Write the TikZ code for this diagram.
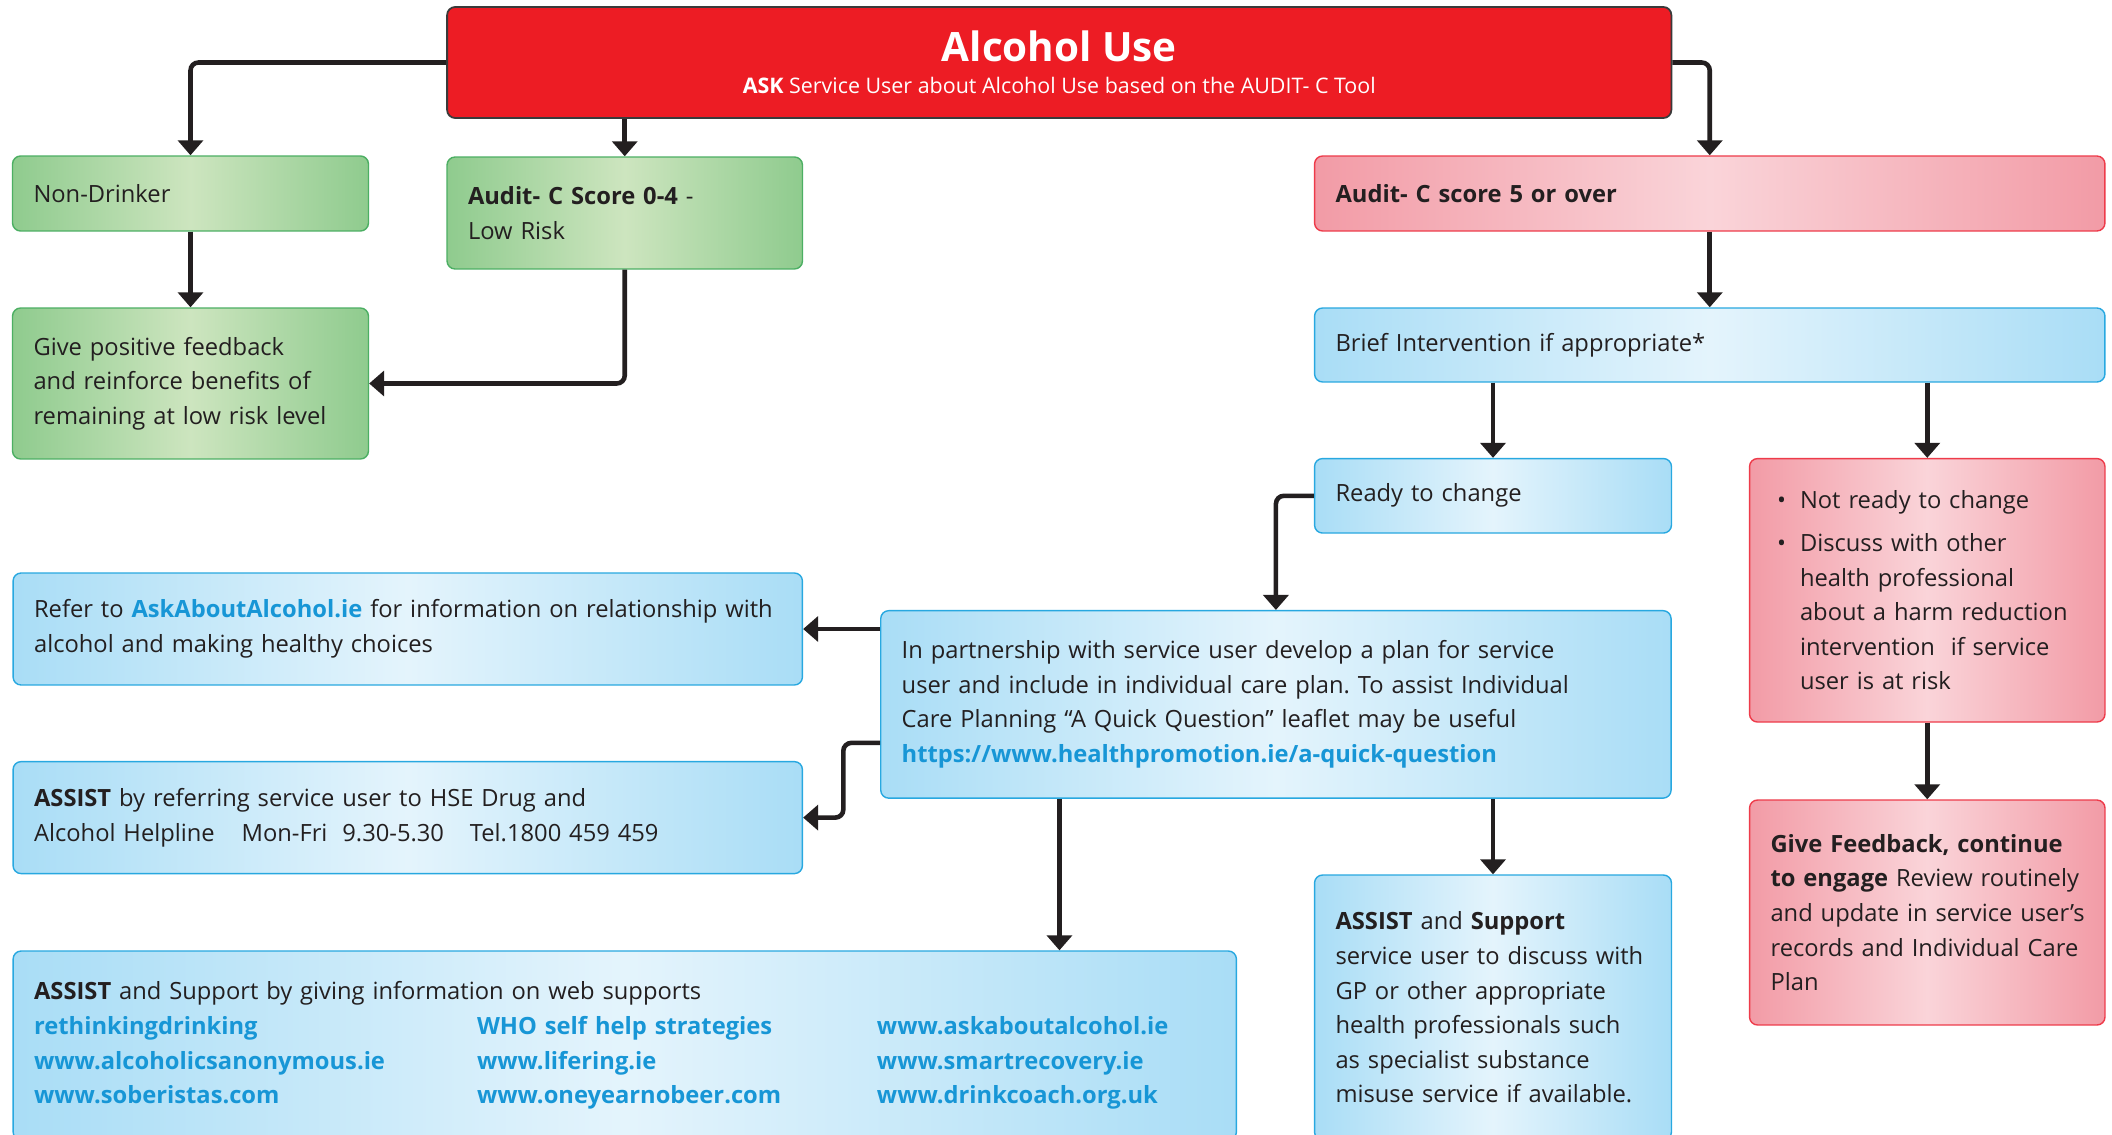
\documentclass[tikz,border=0pt]{standalone}
\usepackage{fontspec}
\setmainfont{Open Sans}
\usepackage{tikz}
\usetikzlibrary{arrows.meta}
\frenchspacing
\definecolor{alcred}{HTML}{ED1C24}
\definecolor{titleline}{HTML}{3A3A3A}
\definecolor{arrowblack}{HTML}{231F20}
\definecolor{textgray}{HTML}{231F20}
\definecolor{linkblue}{HTML}{1796D6}
\definecolor{greenline}{HTML}{4CAF63}
\definecolor{greenedge}{HTML}{8FCB8E}
\definecolor{greenmid}{HTML}{CDE5BF}
\definecolor{pinkline}{HTML}{EE3B4A}
\definecolor{pinkedge}{HTML}{F29BA6}
\definecolor{pinkmid}{HTML}{FAD4D9}
\definecolor{blueline}{HTML}{28A8E0}
\definecolor{blueedge}{HTML}{A9DDF6}
\definecolor{bluemid}{HTML}{E4F4FC}
\newcommand\bodyfont{\fontsize{13.5pt}{19.7pt}\selectfont}
\newcommand\lnk[1]{\textcolor{linkblue}{\textbf{#1}}}

\begin{document}
\begin{tikzpicture}[x=0.02cm,y=-0.02cm,
  box/.style={rectangle,rounded corners=0.16cm,line width=0.8pt,inner xsep=0.42cm,inner ysep=0pt,align=left,font=\bodyfont,text=textgray},
  greenbox/.style={box,draw=greenline,left color=greenedge,right color=greenedge,middle color=greenmid},
  pinkbox/.style={box,draw=pinkline,left color=pinkedge,right color=pinkedge,middle color=pinkmid},
  bluebox/.style={box,draw=blueline,left color=blueedge,right color=blueedge,middle color=bluemid},
  arr/.style={-{Triangle[width=0.5cm,length=0.3cm]},line width=2.6pt,draw=arrowblack,rounded corners=0.16cm}]
\useasboundingbox (0,0) rectangle (2112,1135);
\fill[white] (0,0) rectangle (2112,1135);
\clip (0,0) rectangle (2112,1135);

\node[rectangle,rounded corners=0.16cm,draw=titleline,line width=1pt,fill=alcred,text=white,align=center,minimum width=24.49cm,minimum height=2.22cm,inner sep=0pt,font={\fontsize{12.2pt}{18.2pt}\selectfont}] (title) at (1059.25,62.5) {{\fontsize{23pt}{23pt}\selectfont\bfseries Alcohol Use}\\\textbf{ASK} Service User about Alcohol Use based on the AUDIT- C Tool};

\node[greenbox,minimum width=7.12cm,minimum height=1.5cm,text width=6.28cm] (nondrink) at (190.5,193.5) {Non-Drinker};
\node[greenbox,minimum width=7.11cm,minimum height=2.24cm,text width=6.27cm] (lowrisk) at (624.75,213) {\textbf{Audit- C Score 0-4} -\\Low Risk};
\node[greenbox,minimum width=7.12cm,minimum height=3.02cm,text width=6.28cm] (feedback) at (190.5,383.5) {Give positive feedback\\and reinforce benefits of\\remaining at low risk level};

\node[pinkbox,minimum width=15.81cm,minimum height=1.5cm,text width=14.97cm] (highrisk) at (1709.75,193.5) {\textbf{Audit- C score 5 or over}};
\node[bluebox,minimum width=15.81cm,minimum height=1.48cm,text width=14.97cm] (brief) at (1709.75,345) {Brief Intervention if appropriate*};
\node[bluebox,minimum width=7.14cm,minimum height=1.49cm,text width=6.30cm] (ready) at (1493,495.8) {Ready to change};
\node[pinkbox,minimum width=7.11cm,minimum height=5.27cm,text width=6.27cm] (notready) at (1927.25,590.3) {\hspace*{0.13cm}\makebox[0.46cm][l]{•}Not ready to change\\[0.17cm]\hspace*{0.13cm}\makebox[0.46cm][l]{•}Discuss with other\\\hspace*{0.59cm}health professional\\\hspace*{0.59cm}about a harm reduction\\\hspace*{0.59cm}intervention\ \ if service\\\hspace*{0.59cm}user is at risk};
\node[pinkbox,minimum width=7.11cm,minimum height=4.5cm,text width=6.27cm] (engage) at (1927.25,912.5) {\textbf{Give Feedback, continue}\\\textbf{to engage} Review routinely\\and update in service user’s\\records and Individual Care\\Plan};

\node[bluebox,minimum width=15.81cm,minimum height=3.75cm,text width=14.97cm] (plan) at (1275.9,704.4) {In partnership with service user develop a plan for service\\user and include in individual care plan. To assist Individual\\Care Planning “A Quick Question” leaflet may be useful\\\lnk{https://www.healthpromotion.ie/a-quick-question}};
\node[bluebox,minimum width=15.79cm,minimum height=2.24cm,text width=14.95cm] (refer) at (407.75,629) {Refer to \lnk{AskAboutAlcohol.ie} for information on relationship with\\alcohol and making healthy choices};
\node[bluebox,minimum width=15.79cm,minimum height=2.24cm,text width=14.95cm] (helpline) at (407.75,817.6) {\textbf{ASSIST} by referring service user to HSE Drug and\\Alcohol Helpline\hspace{0.38cm} Mon-Fri\hspace{0.14cm} 9.30-5.30\hspace{0.36cm} Tel.1800 459 459};
\node[bluebox,minimum width=24.47cm,minimum height=3.78cm,text width=23.63cm] (web) at (624.75,1045.5) {\textbf{ASSIST} and Support by giving information on web supports\\
\makebox[8.86cm][l]{\lnk{rethinkingdrinking}}\makebox[8cm][l]{\lnk{WHO self help strategies}}\lnk{www.askaboutalcohol.ie}\\
\makebox[8.86cm][l]{\lnk{www.alcoholicsanonymous.ie}}\makebox[8cm][l]{\lnk{www.lifering.ie}}\lnk{www.smartrecovery.ie}\\
\makebox[8.86cm][l]{\lnk{www.soberistas.com}}\makebox[8cm][l]{\lnk{www.oneyearnobeer.com}}\lnk{www.drinkcoach.org.uk}};
\node[bluebox,minimum width=7.14cm,minimum height=5.3cm,text width=6.30cm] (support) at (1493,1007.5) {\textbf{ASSIST} and \textbf{Support}\\service user to discuss with\\GP or other appropriate\\health professionals such\\as specialist substance\\misuse service if available.};

\draw[arr] (title.west) -| (nondrink.north);
\draw[arr] (title.south -| lowrisk.north) -- (lowrisk.north);
\draw[arr] (title.east) -| (highrisk.north);
\draw[arr] (nondrink.south) -- (feedback.north);
\draw[arr] (lowrisk.south) |- (feedback.east);
\draw[arr] (highrisk.south) -- (brief.north);
\draw[arr] (brief.south -| ready.north) -- (ready.north);
\draw[arr] (brief.south -| notready.north) -- (notready.north);
\draw[arr] (notready.south) -- (engage.north);
\draw[arr] (ready.west) -| (plan.north);
\draw[arr] (plan.west |- refer.east) -- (refer.east);
\draw[arr] ([yshift=-0.77cm]plan.west) -- ++(-36.7,0) |- (helpline.east);
\coordinate (webin) at ([xshift=-4.33cm]plan.south);
\draw[arr] (webin) -- (webin |- web.north);
\draw[arr] (plan.south -| support.north) -- (support.north);
\end{tikzpicture}
\end{document}
